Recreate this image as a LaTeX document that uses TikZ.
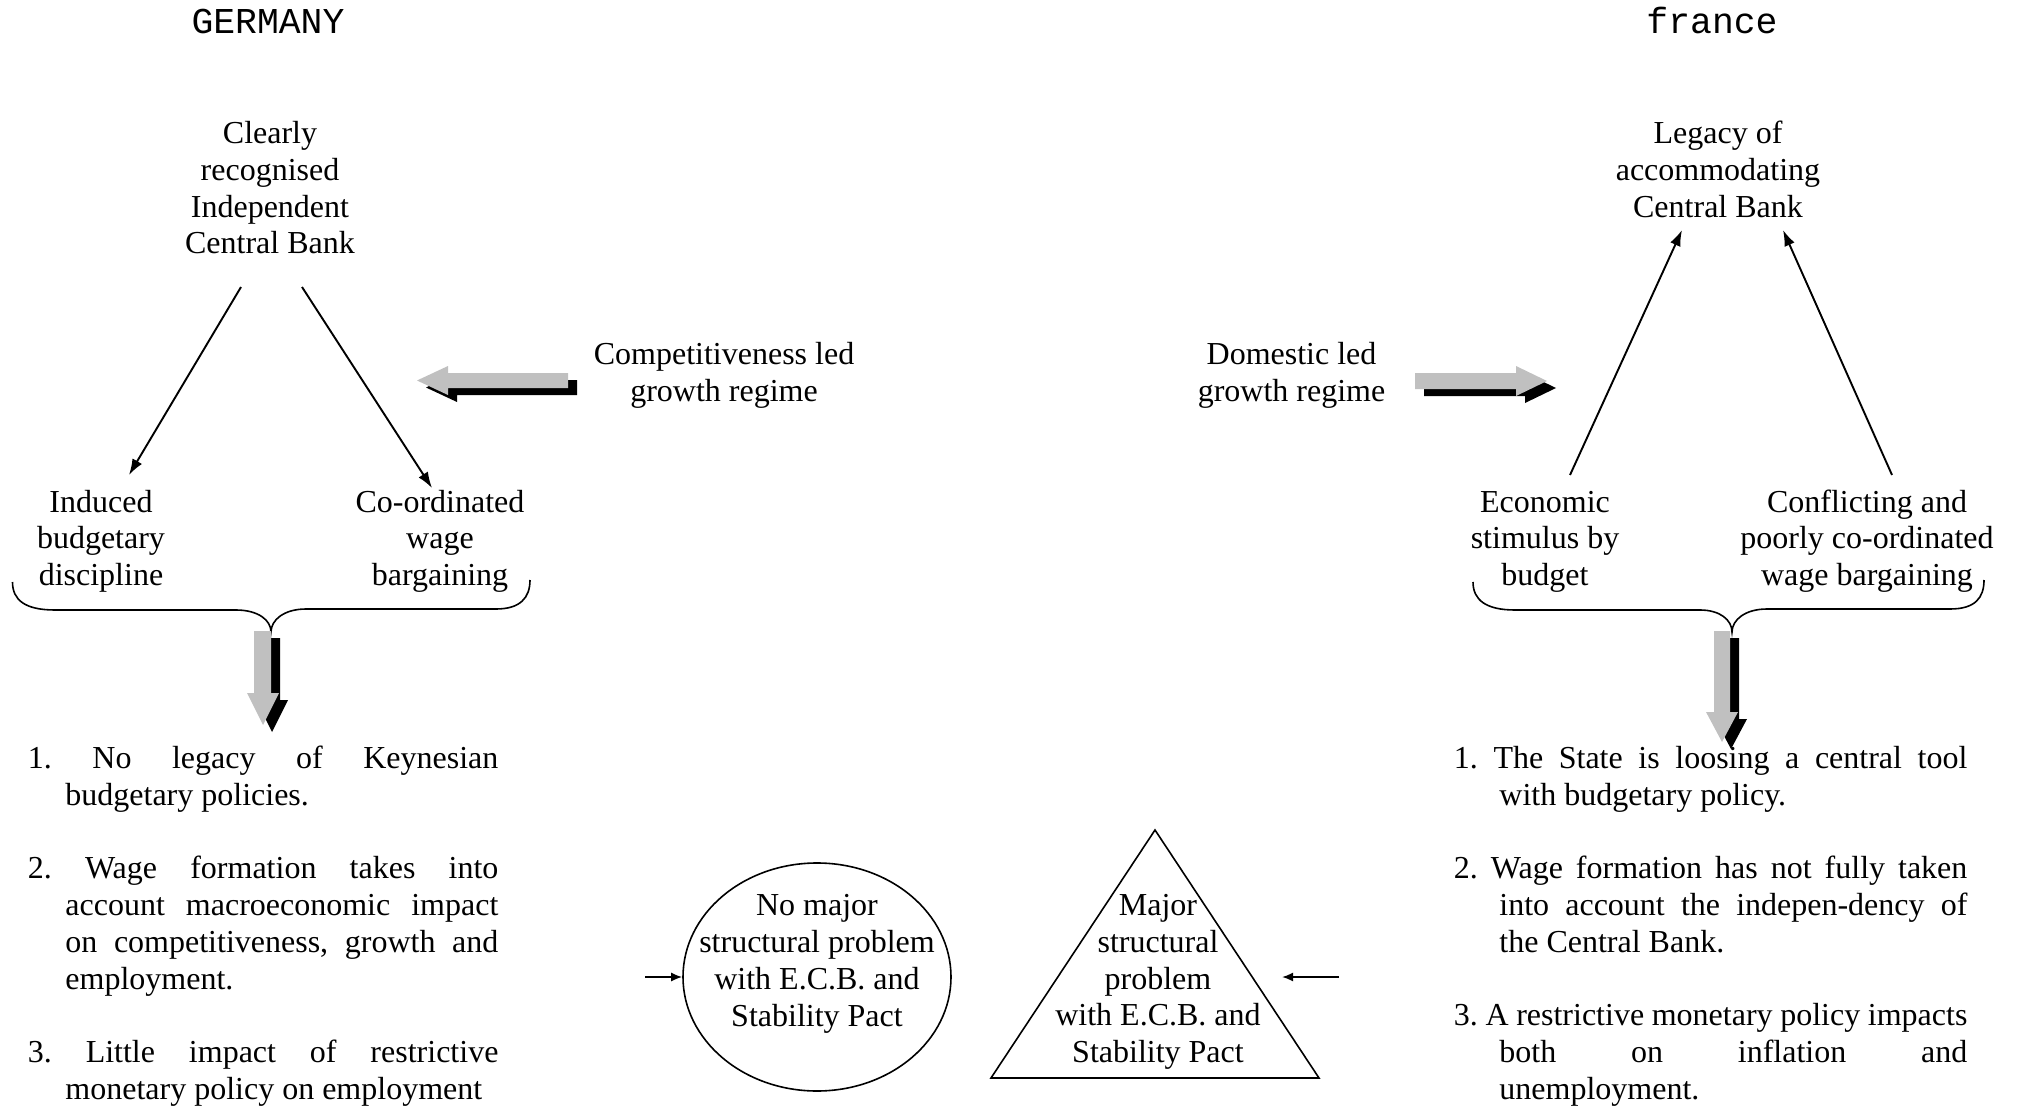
\documentclass[tikz,border=0pt]{standalone}
\usepackage{fontspec}
\setmainfont{Liberation Serif}
\newfontfamily\titlefont{Liberation Mono}
\usetikzlibrary{arrows.meta,shapes.geometric}
\definecolor{silvergray}{RGB}{192,192,192}
\frenchspacing
\begin{document}
\begin{tikzpicture}[x=0.5pt,y=-0.5pt,
  txt/.style={font=\fontsize{16}{18.375}\selectfont, inner sep=0pt, align=center, anchor=base},
  lst/.style={font=\fontsize{16}{18.375}\selectfont, inner sep=0pt, anchor=base west},
  ttl/.style={font=\titlefont\fontsize{18.2}{20}\selectfont, inner sep=0pt, anchor=base},
  thinarrow/.style={-{Latex[length=8pt,width=5.5pt]}, line width=0.95pt},
  smallarrow/.style={-{Latex[length=5.5pt,width=4.5pt]}, line width=0.85pt},
  bracepath/.style={line width=0.8pt},
  outline/.style={draw, line width=0.8pt},
  blockface/.style={fill=silvergray},
  blockshade/.style={fill=black, shift={(9,7)}},
]
\useasboundingbox (0,0) rectangle (2024,1107);

% ---------- titles ----------
\node[ttl] (gertitle) at (268,34) {GERMANY};
\node[ttl] (fratitle) at (1712,34) {france};

% ---------- Germany ----------
% (base anchor of a multi-line node = baseline of its last line)
\node[txt] (gcb) at (270,254) {Clearly\\recognised\\Independent\\Central Bank};
\node[txt] (gibd) at (101,585.5) {Induced\\budgetary\\discipline};
\node[txt] (gcwb) at (440,585.5) {Co-ordinated\\wage\\bargaining};
\node[txt] (gregime) at (724,401) {Competitiveness led\\growth regime};

\coordinate (gaS1) at (241,287); \coordinate (gaE1) at (129,475);
\coordinate (gaS2) at (302,287); \coordinate (gaE2) at (432,488);
\draw[thinarrow] (gaS1) -- (gaE1);
\draw[thinarrow] (gaS2) -- (gaE2);

\draw[bracepath] (12.5,582) .. controls (12.5,600) and (25,610) .. (55,610) -- (236,610)
  .. controls (258,610) and (271,620) .. (271,632)
  .. controls (271,620) and (284,609) .. (306,609) -- (496,609)
  .. controls (520,609) and (530,598) .. (530,580);

% horizontal block arrow (left)
\def\gharrow{(417,380.5) -- (448,366) -- (448,373) -- (568,373) -- (568,388) -- (448,388) -- (448,395) -- cycle}
\fill[blockshade] \gharrow;
\fill[blockface] \gharrow;
% down block arrow
\def\gdarrow{(254,631) -- (271,631) -- (271,693) -- (279,693) -- (263,725) -- (247,693) -- (254,693) -- cycle}
\fill[blockshade] \gdarrow;
\fill[blockface] \gdarrow;

\node[lst] (g1a) at (27.5,768.5) {\makebox[235.25pt][s]{1. No legacy of Keynesian}};
\node[lst] (g1b) at (65,805.25) {budgetary policies.};
\node[lst] (g2a) at (27.5,878.75) {\makebox[235.25pt][s]{2. Wage formation takes into}};
\node[lst] (g2b) at (65,915.5) {\makebox[216.5pt][s]{account macroeconomic impact}};
\node[lst] (g2c) at (65,952.25) {\makebox[216.5pt][s]{on competitiveness, growth and}};
\node[lst] (g2d) at (65,989) {employment.};
\node[lst] (g3a) at (27.5,1062.5) {\makebox[235.25pt][s]{3. Little impact of restrictive}};
\node[lst] (g3b) at (65,1099.25) {monetary policy on employment};

% ---------- France ----------
\node[txt] (fcb) at (1718,217.5) {Legacy of\\accommodating\\Central Bank};
\node[txt] (fesb) at (1545,585.5) {Economic\\stimulus by\\budget};
\node[txt] (fcwb) at (1867,585.5) {Conflicting and\\poorly co-ordinated\\wage bargaining};
\node[txt] (fregime) at (1291.5,401) {Domestic led\\growth regime};

\coordinate (faS1) at (1570,475); \coordinate (faE1) at (1682,230);
\coordinate (faS2) at (1892,475); \coordinate (faE2) at (1783,230);
\draw[thinarrow] (faS1) -- (faE1);
\draw[thinarrow] (faS2) -- (faE2);

\draw[bracepath] (1473,582) .. controls (1473,600) and (1486,610) .. (1515,610) -- (1700,610)
  .. controls (1720,610) and (1732,620) .. (1732,632)
  .. controls (1732,620) and (1745,609) .. (1767,609) -- (1950,609)
  .. controls (1975,609) and (1984,598) .. (1984,580);

\def\fharrow{(1415,373) -- (1516,373) -- (1516,366) -- (1547,381) -- (1516,396) -- (1516,389) -- (1415,389) -- cycle}
\fill[blockshade] \fharrow;
\fill[blockface] \fharrow;
\def\fdarrow{(1714,631) -- (1730,631) -- (1730,712) -- (1738,712) -- (1722,742) -- (1706,712) -- (1714,712) -- cycle}
\fill[blockshade] \fdarrow;
\fill[blockface] \fdarrow;

\node[lst] (f1a) at (1453.5,768.5) {\makebox[256.75pt][s]{1. The State is loosing a central tool}};
\node[lst] (f1b) at (1499,805.25) {with budgetary policy.};
\node[lst] (f2a) at (1453.5,878.75) {\makebox[256.75pt][s]{2. Wage formation has not fully taken}};
\node[lst] (f2b) at (1499,915.5) {\makebox[234pt][s]{into account the indepen-dency of}};
\node[lst] (f2c) at (1499,952.25) {the Central Bank.};
\node[lst] (f3a) at (1453.5,1025.75) {\makebox[256.75pt][s]{3. A restrictive monetary policy impacts}};
\node[lst] (f3b) at (1499,1062.5) {\makebox[234pt][s]{both on inflation and}};
\node[lst] (f3c) at (1499,1099.25) {unemployment.};

% ---------- centre shapes ----------
\node[outline, ellipse, minimum width=134pt, minimum height=114pt, inner sep=0pt] (noprob) at (817,977) {};
\node[txt] (noprobtxt) at (817,1026) {No major\\structural problem\\with E.C.B. and\\Stability Pact};
\coordinate (inL) at (645,977);
\draw[smallarrow] (inL) -- (noprob.west);

\coordinate (triA) at (1155,830);
\coordinate (triB) at (1319,1078);
\coordinate (triC) at (991,1078);
\draw[line width=0.8pt] (triA) -- (triB) -- (triC) -- cycle;
\node[txt] (majprobtxt) at (1158,1062.5) {Major\\structural\\problem\\with E.C.B. and\\Stability Pact};
\coordinate (inR) at (1339,977);
\coordinate (inRtip) at (1282,977);
\draw[smallarrow] (inR) -- (inRtip);
\end{tikzpicture}
\end{document}
